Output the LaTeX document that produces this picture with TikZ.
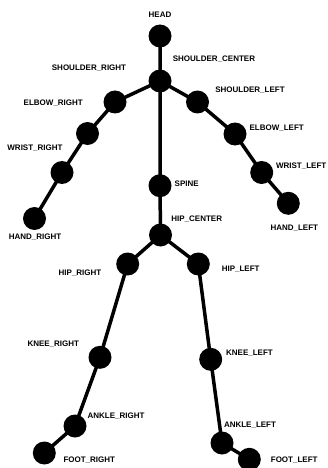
\documentclass[tikz,border=0pt]{standalone}
\usepackage{fontspec}
\setmainfont{Liberation Sans}
\begin{document}
\begin{tikzpicture}[x=1pt,y=-1pt,
  joint/.style={circle,fill=black,inner sep=0pt,minimum size=23pt},
  lbl/.style={font=\bfseries\fontsize{8}{9}\selectfont,inner sep=0pt},
  bone/.style={line width=3.5pt,black}]
\useasboundingbox (0,0) rectangle (327,468);
% joints
\node[joint] (head) at (160,36) {};
\node[joint] (sc) at (160,81) {};
\node[joint] (sr) at (115,102) {};
\node[joint] (er) at (87.5,133.5) {};
\node[joint] (wr) at (62,172.5) {};
\node[joint] (hr) at (34.5,218.5) {};
\node[joint] (sl) at (197.5,102) {};
\node[joint] (el) at (235,134) {};
\node[joint] (wl) at (261.7,172.5) {};
\node[joint] (hl) at (288.3,203.3) {};
\node[joint] (spine) at (160,185.7) {};
\node[joint] (hc) at (160.5,235) {};
\node[joint] (hipr) at (127.7,264) {};
\node[joint] (hipl) at (198.3,264) {};
\node[joint] (kr) at (100,357.3) {};
\node[joint] (kl) at (210.7,359.3) {};
\node[joint] (ar) at (75,426) {};
\node[joint] (al) at (222,443) {};
\node[joint] (fr) at (44.3,453) {};
\node[joint] (fl) at (249.3,459.3) {};
% bones
\draw[bone] (head.center) -- (sc.center) -- (spine.center) -- (hc.center);
\draw[bone] (sc.center) -- (sr.center) -- (er.center) -- (wr.center) -- (hr.center);
\draw[bone] (sc.center) -- (sl.center) -- (el.center) -- (wl.center) -- (hl.center);
\draw[bone] (hc.center) -- (hipr.center) -- (kr.center) -- (ar.center) -- (fr.center);
\draw[bone] (hc.center) -- (hipl.center) -- (kl.center) -- (al.center) -- (fl.center);
% labels
\node[lbl] (t1) at (160,15) {HEAD};
\node[lbl] (t2) at (214,59) {SHOULDER\_CENTER};
\node[lbl] (t3) at (89,67.7) {SHOULDER\_RIGHT};
\node[lbl] (t4) at (53.3,103.3) {ELBOW\_RIGHT};
\node[lbl] (t5) at (35,148.3) {WRIST\_RIGHT};
\node[lbl] (t6) at (35,237.5) {HAND\_RIGHT};
\node[lbl] (t7) at (250,90) {SHOULDER\_LEFT};
\node[lbl] (t8) at (276.7,128.3) {ELBOW\_LEFT};
\node[lbl,anchor=east] (t9) at (326.5,165.7) {WRIST\_LEFT};
\node[lbl] (t10) at (294.3,228.3) {HAND\_LEFT};
\node[lbl] (t11) at (186.7,184) {SPINE};
\node[lbl] (t12) at (196.7,219.3) {HIP\_CENTER};
\node[lbl] (t13) at (80,272.7) {HIP\_RIGHT};
\node[lbl] (t14) at (240.7,269) {HIP\_LEFT};
\node[lbl] (t15) at (53.3,344.5) {KNEE\_RIGHT};
\node[lbl] (t16) at (249.5,353.7) {KNEE\_LEFT};
\node[lbl] (t17) at (116,416) {ANKLE\_RIGHT};
\node[lbl] (t18) at (250,425) {ANKLE\_LEFT};
\node[lbl] (t19) at (89.3,460.2) {FOOT\_RIGHT};
\node[lbl] (t20) at (294.2,460.5) {FOOT\_LEFT};
\end{tikzpicture}
\end{document}
